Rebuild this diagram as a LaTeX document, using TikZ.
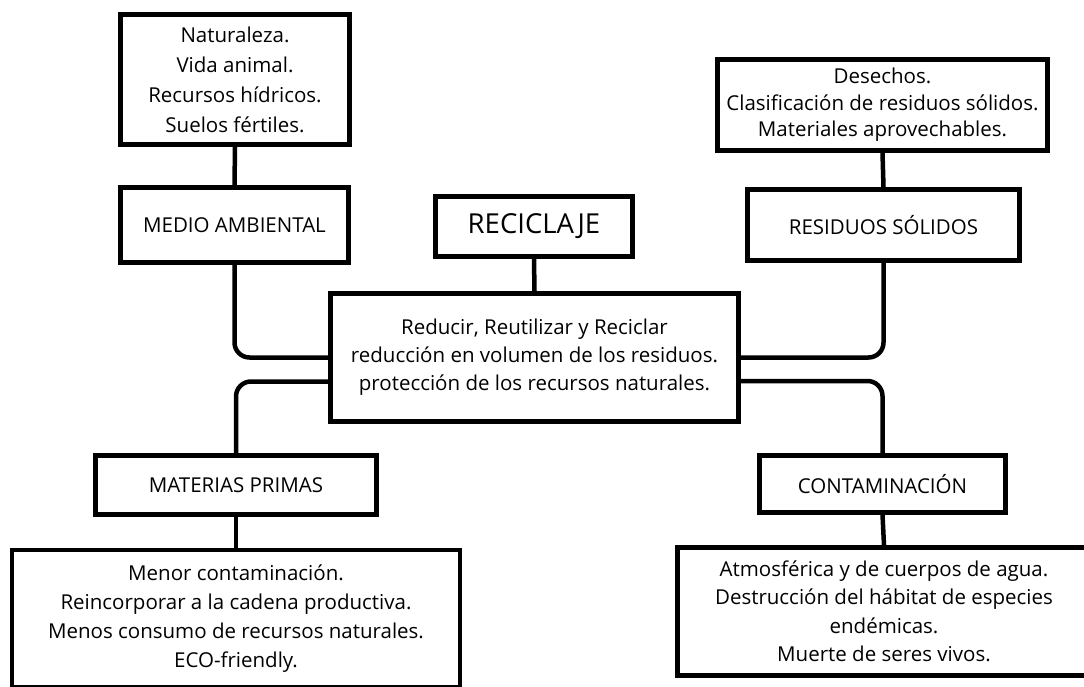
\documentclass[tikz,border=0pt]{standalone}
\usepackage{fontspec}
\setmainfont{Open Sans}
\usetikzlibrary{calc}
\begin{document}
\begin{tikzpicture}[x=1pt,y=-1pt,
  box/.style={draw,line width=4.5pt,rectangle,align=center,inner sep=0pt,
    font=\fontsize{20.5}{29}\selectfont},
  link/.style={line width=4.5pt,rounded corners=15pt},
]
\useasboundingbox (0,0) rectangle (1084,686);
\clip (0,0) rectangle (1084,686);
\fill[white] (0,0) rectangle (1084,686);

% top row
\node[box,minimum width=229,minimum height=130,font=\fontsize{20.5}{30}\selectfont] (nat) at (235,79.5)
  {Naturaleza.\\Vida animal.\\Recursos hídricos.\\Suelos fértiles.};
\node[box,minimum width=330,minimum height=91,font=\fontsize{20.5}{26.5}\selectfont] (desech) at (882.5,105)
  {Desechos.\\Clasificación de residuos sólidos.\\Materiales aprovechables.};

% second row
\node[box,minimum width=228,minimum height=75] (medio) at (234.5,225) {MEDIO AMBIENTAL};
\node[box,minimum width=197,minimum height=60,font=\fontsize{27.5}{32}\selectfont] (recic) at (534,226.5) {RECICLAJE};
\node[box,minimum width=272,minimum height=71] (resid) at (883.5,225) {RESIDUOS SÓLIDOS};

% centre
\node[box,minimum width=408,minimum height=128,font=\fontsize{20.5}{28}\selectfont] (centro) at (534.5,357.5)
  {Reducir, Reutilizar y Reciclar\\reducción en volumen de los residuos.\\protección de los recursos naturales.};

% third row
\node[box,minimum width=281,minimum height=59] (mat) at (236,485) {MATERIAS PRIMAS};
\node[box,minimum width=246,minimum height=57] (cont) at (882.5,484) {CONTAMINACIÓN};

% bottom row
\node[box,minimum width=448,minimum height=137] (bl) at (236,618.5)
  {Menor contaminación.\\Reincorporar a la cadena productiva.\\Menos consumo de recursos naturales.\\ECO-friendly.};
\node[box,minimum width=413,minimum height=128,font=\fontsize{20.5}{28.5}\selectfont] (br) at (884,611.5)
  {Atmosférica y de cuerpos de agua.\\Destrucción del hábitat de especies\\endémicas.\\Muerte de seres vivos.};

% connectors
\draw[link] (nat.south) -- (medio.north);
\draw[link] (desech.south) -- (resid.north);
\draw[link] (recic.south) -- (centro.north);
\draw[link] (mat.south) -- (bl.north);
\draw[link] (cont.south) -- (br.north);
\draw[link] (medio.south) |- (centro.west);
\draw[link] ($(centro.west)+(0,24)$) -| (mat.north);
\draw[link] (centro.east) -| (resid.south);
\draw[link] ($(centro.east)+(0,23.5)$) -| (cont.north);
\end{tikzpicture}
\end{document}
